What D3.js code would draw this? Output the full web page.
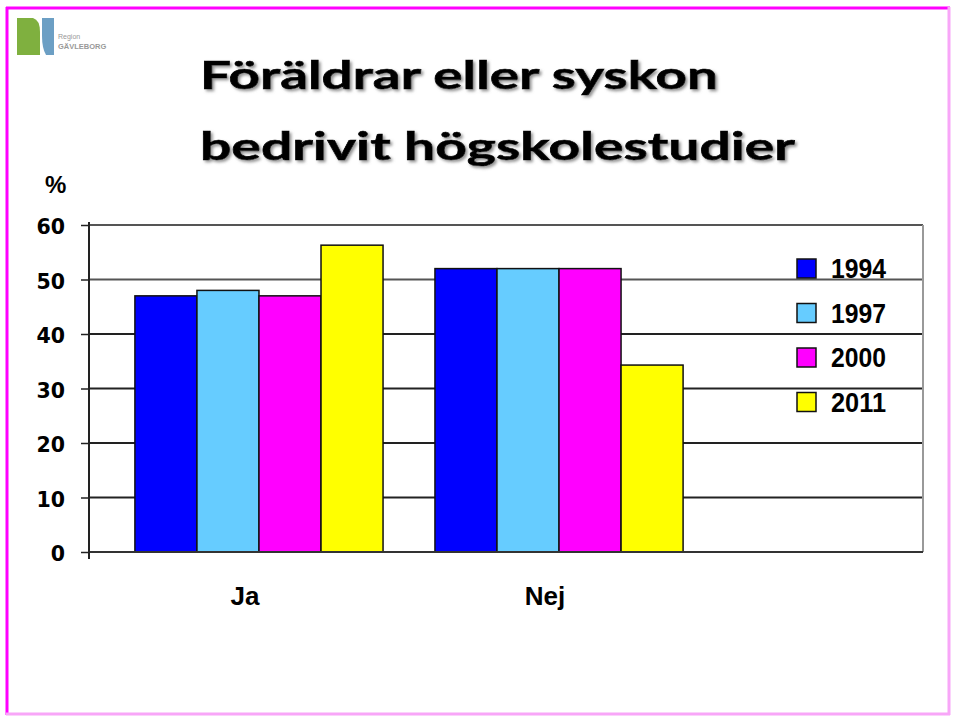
<!DOCTYPE html>
<html>
<head>
<meta charset="utf-8">
<script src="https://cdn.jsdelivr.net/npm/d3@7"></script>
<style>
  body { margin: 0; background: #fff; }
  svg { display: block; }
</style>
</head>
<body>
<div id="chart"></div>
<script>
// data
var categories = ["Ja", "Nej"];
var years = ["1994", "1997", "2000", "2011"];
var values1994 = [47, 52];
var values1997 = [48, 52];
var values2000 = [47, 52];
var values2011 = [56.3, 34.3];
var yTicks = [0, 10, 20, 30, 40, 50, 60];
var titleLines = ["Föräldrar eller syskon", "bedrivit högskolestudier"];

var series = [values1994, values1997, values2000, values2011];
var colors = ["#0000ff", "#66ccff", "#ff00ff", "#ffff00"];

var width = 953, height = 720;
var plotLeft = 89, plotRight = 923, plotTop = 225, plotBottom = 552;

var svg = d3.select("#chart")
    .append("svg")
    .attr("width", width)
    .attr("height", height);

// slide frame
svg.append("rect")
    .attr("x", 0).attr("y", 0)
    .attr("width", width).attr("height", height)
    .attr("fill", "#fff");
svg.append("line").attr("x1", 6).attr("x2", 950).attr("y1", 8).attr("y2", 8)
    .attr("stroke", "#ff00ff").attr("stroke-width", 3);
svg.append("line").attr("x1", 7).attr("x2", 7).attr("y1", 7).attr("y2", 715)
    .attr("stroke", "#ff00ff").attr("stroke-width", 3);
svg.append("line").attr("x1", 949).attr("x2", 949).attr("y1", 7).attr("y2", 715)
    .attr("stroke", "#f8a6f8").attr("stroke-width", 3);
svg.append("line").attr("x1", 6).attr("x2", 950).attr("y1", 714).attr("y2", 714)
    .attr("stroke", "#f8a6f8").attr("stroke-width", 3);

// logo
var logo = svg.append("g").attr("transform", "translate(17,18)");
logo.append("path")
    .attr("d", "M0,0 L16,0 Q23,2 23,14 L23,37 L0,37 Z")
    .attr("fill", "#7fb03f");
logo.append("path")
    .attr("d", "M25,0 L37,0 L37,37 L29,37 Q25,30 25,18 Z")
    .attr("fill", "#6c9fc4");
logo.append("text").attr("x", 41).attr("y", 21)
    .attr("font-family", "Liberation Sans, Arial, sans-serif")
    .attr("font-size", 7).attr("fill", "#999").text("Region");
logo.append("text").attr("x", 41).attr("y", 31)
    .attr("font-family", "Liberation Sans, Arial, sans-serif")
    .attr("font-weight", "bold")
    .attr("font-size", 7.5).attr("fill", "#999").text("GÄVLEBORG");

// title with soft shadow
var defs = svg.append("defs");
defs.append("filter").attr("id", "shadow")
    .attr("x", "-5%").attr("y", "-20%").attr("width", "110%").attr("height", "150%")
    .append("feDropShadow")
    .attr("dx", 2).attr("dy", 2)
    .attr("stdDeviation", 1.5)
    .attr("flood-color", "#777")
    .attr("flood-opacity", 0.8);

var titleBase = [89, 160];
var titleWidth = [518, 595];
titleLines.forEach(function(t, i) {
	svg.append("text")
	    .attr("x", 200)
	    .attr("y", titleBase[i])
	    .attr("font-family", "Lato, 'Open Sans', sans-serif")
	    .attr("font-weight", "bold")
	    .attr("font-size", 39)
	    .attr("textLength", titleWidth[i])
	    .attr("lengthAdjust", "spacingAndGlyphs")
	    .attr("fill", "#000")
	    .attr("stroke", "#000")
	    .attr("stroke-width", 0.6)
	    .attr("filter", "url(#shadow)")
	    .text(t);
});

// scales
var y = d3.scaleLinear().domain([0, 60]).range([plotBottom, plotTop]);
var x0 = d3.scaleBand().domain(categories)
    .range([plotLeft, 729])
    .paddingInner(0.173)
    .paddingOuter(0.153);
var x1 = d3.scaleBand().domain(years).range([0, x0.bandwidth()]);

// gridlines
svg.append("g").selectAll("line")
    .data(yTicks.filter(function(d) { return d > 0; }))
    .enter().append("line")
    .attr("x1", plotLeft).attr("x2", plotRight)
    .attr("y1", function(d) { return y(d); })
    .attr("y2", function(d) { return y(d); })
    .attr("stroke", function(d) { return d >= 50 ? "#555" : "#222"; })
    .attr("stroke-width", 2);

// right border of plot
svg.append("line")
    .attr("x1", plotRight).attr("x2", plotRight)
    .attr("y1", plotTop).attr("y2", plotBottom)
    .attr("stroke", "#999").attr("stroke-width", 2);

// bars
var groups = svg.append("g").selectAll("g")
    .data(categories)
    .enter().append("g")
    .attr("transform", function(d) { return "translate(" + x0(d) + ",0)"; });

groups.selectAll("rect")
    .data(function(d, ci) {
	    return years.map(function(yr, si) { return { year: yr, value: series[si][ci], color: colors[si] }; });
    })
    .enter().append("rect")
    .attr("x", function(d) { return x1(d.year); })
    .attr("y", function(d) { return y(d.value); })
    .attr("width", x1.bandwidth())
    .attr("height", function(d) { return plotBottom - y(d.value); })
    .attr("fill", function(d) { return d.color; })
    .attr("stroke", "#111")
    .attr("stroke-width", 1.5);

// x axis line
svg.append("line")
    .attr("x1", plotLeft).attr("x2", plotRight)
    .attr("y1", plotBottom).attr("y2", plotBottom)
    .attr("stroke", "#333").attr("stroke-width", 2);

// y axis
var yAxis = svg.append("g")
    .attr("transform", "translate(" + plotLeft + ",0)")
    .call(d3.axisLeft(y).tickValues(yTicks).tickSize(8).tickPadding(16).tickSizeOuter(0));
yAxis.select(".domain").remove();
yAxis.selectAll(".tick line").attr("stroke", "#222").attr("stroke-width", 1.5);
yAxis.selectAll(".tick text")
    .attr("font-family", "'DejaVu Sans', sans-serif")
    .attr("font-weight", "bold")
    .attr("font-size", 20.5)
    .attr("fill", "#000")
    .attr("dy", "0.42em");
yAxis.append("line")
    .attr("x1", 0).attr("x2", 0)
    .attr("y1", plotTop - 3).attr("y2", plotBottom + 7)
    .attr("stroke", "#222").attr("stroke-width", 2);

svg.append("text")
    .attr("x", 45).attr("y", 193)
    .attr("font-family", "Liberation Sans, Arial, sans-serif")
    .attr("font-weight", "bold")
    .attr("font-size", 24)
    .text("%");

// category labels
svg.append("g").selectAll("text")
    .data(categories)
    .enter().append("text")
    .attr("x", function(d) { return x0(d) + x0.bandwidth() / 2 - 14; })
    .attr("y", 605)
    .attr("text-anchor", "middle")
    .attr("font-family", "Liberation Sans, Arial, sans-serif")
    .attr("font-weight", "bold")
    .attr("font-size", 26)
    .text(function(d) { return d; });

// legend
var legend = svg.append("g").selectAll("g")
    .data(years)
    .enter().append("g")
    .attr("transform", function(d, i) { return "translate(797," + (259 + i * 44.5) + ")"; });
legend.append("rect")
    .attr("width", 19).attr("height", 19)
    .attr("fill", function(d, i) { return colors[i]; })
    .attr("stroke", "#111").attr("stroke-width", 1.5);
legend.append("text")
    .attr("x", 34).attr("y", 19)
    .attr("font-family", "Liberation Sans, Arial, sans-serif")
    .attr("font-weight", "bold")
    .attr("font-size", 27)
    .attr("textLength", 55)
    .attr("lengthAdjust", "spacingAndGlyphs")
    .text(function(d) { return d; });
</script>
</body>
</html>
